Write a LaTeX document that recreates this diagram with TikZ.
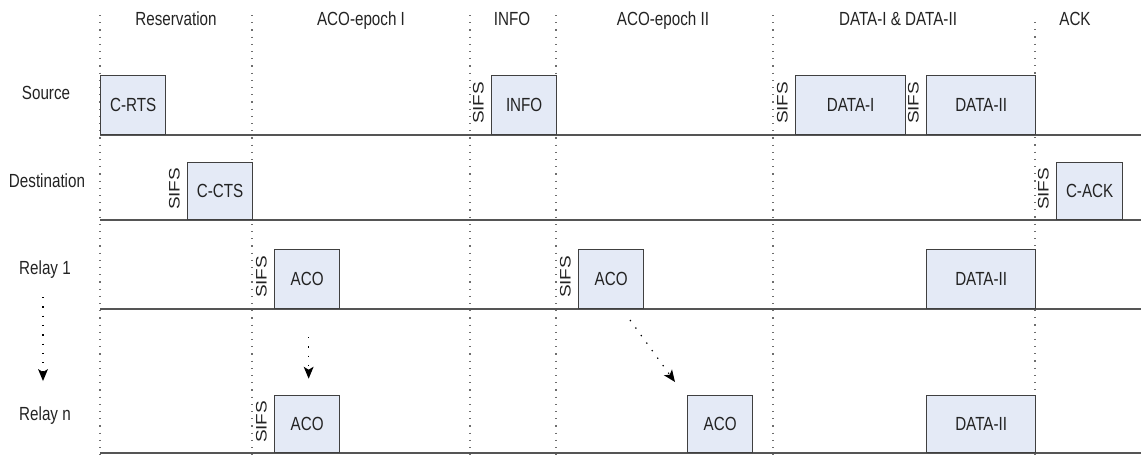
\documentclass[tikz,border=0pt]{standalone}
\usepackage{fontspec}
\setmainfont{Liberation Sans}
\usetikzlibrary{arrows.meta,calc}
\definecolor{boxfill}{RGB}{228,234,246}
\definecolor{boxline}{RGB}{64,64,64}
\definecolor{txt}{RGB}{35,35,35}
\definecolor{axis}{RGB}{85,85,85}
\definecolor{dots}{RGB}{110,110,110}
\newcommand\nw[1]{\scalebox{0.8}[1]{#1}}
\newcommand\sifstext{\scalebox{1}[0.8]{SIFS}}
\begin{document}
\begin{tikzpicture}[x=1pt,y=-1pt,
  every node/.style={font=\fontsize{19}{22}\selectfont, text=txt, inner sep=0pt},
  pkt/.style={draw=boxline, fill=boxfill, line width=1.3pt, anchor=south west, minimum height=59pt},
  pktlow/.style={pkt, minimum height=57pt},
  sifsl/.style={rotate=90},
  lbl/.style={anchor=base},
  phase/.style={draw=dots, line width=1.3pt, dash pattern=on 1.2pt off 6pt},
  timeline/.style={draw=axis, line width=2pt},
  darr/.style={draw=black, line width=1.2pt, dash pattern=on 1.3pt off 8pt,
    -{Stealth[length=12pt,width=10pt,inset=3pt,line width=0pt,fill=black,sep=0pt]}},
]
\useasboundingbox (0,0) rectangle (1141,455);

% phase separators
\foreach \x in {100,252,470,556,773} \draw[phase] (\x,15) -- (\x,455);
\draw[phase] (1035,22) -- (1035,455);

% phase titles
\node[lbl] (tres) at (176,25) {\nw{Reservation}};
\node[lbl] (taco1) at (361,25) {\nw{ACO-epoch I}};
\node[lbl] (tinfo) at (512,25) {\nw{INFO}};
\node[lbl] (taco2) at (663,25) {\nw{ACO-epoch II}};
\node[lbl] (tdata) at (898,25) {\nw{DATA-I \& DATA-II}};
\node[lbl] (tack) at (1075,25) {\nw{ACK}};

% row labels
\node[lbl] (src) at (46,99) {\nw{Source}};
\node[lbl] (dst) at (47,187) {\nw{Destination}};
\node[lbl] (rl1) at (45,274) {\nw{Relay 1}};
\node[lbl] (rln) at (45,420) {\nw{Relay n}};

% timelines
\draw[timeline] (100,135) -- (1141,135);
\draw[timeline] (100,220) -- (1141,220);
\draw[timeline] (100,309) -- (1141,309);
\draw[timeline] (100,453) -- (1141,453);

% packets
\node[pkt, minimum width=65pt] (crts) at (100,135) {\nw{C-RTS}};
\node[pktlow, minimum width=65pt] (ccts) at (187,220) {\nw{C-CTS}};
\node[pkt, minimum width=65pt] (info) at (491,135) {\nw{INFO}};
\node[pkt, minimum width=110pt] (datai) at (795,135) {\nw{DATA-I}};
\node[pkt, minimum width=109pt] (dataii) at (926,135) {\nw{DATA-II}};
\node[pktlow, minimum width=66pt] (cack) at (1056,220) {\nw{C-ACK}};
\node[pkt, minimum width=65pt] (acoa) at (274,309) {\nw{ACO}};
\node[pkt, minimum width=65pt] (acob) at (578,309) {\nw{ACO}};
\node[pkt, minimum width=109pt] (dataiia) at (926,309) {\nw{DATA-II}};
\node[pktlow, minimum width=65pt] (acoc) at (274,453) {\nw{ACO}};
\node[pktlow, minimum width=65pt] (acod) at (687,453) {\nw{ACO}};
\node[pktlow, minimum width=109pt] (dataiib) at (926,453) {\nw{DATA-II}};

% SIFS labels
\foreach \b in {ccts,info,datai,dataii,cack,acoa,acob,acoc}
  \node[sifsl] (sifs-\b) at ($(\b.west)+(-12.5,-2)$) {\sifstext};

% arrows
\coordinate (la) at (43,297);
\coordinate (lb) at (43,381);
\draw[darr] (la) -- (lb);
\draw[darr] ($(acoa.south)+(1.5,28)$) -- ($(acoc.north)+(1.5,-16)$);
\coordinate (da) at (630,320);
\coordinate (db) at (675,382);
\draw[darr] (da) -- (db);
\end{tikzpicture}
\end{document}
